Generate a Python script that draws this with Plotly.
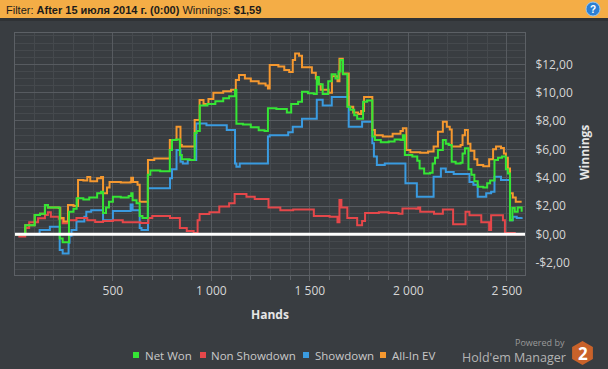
import plotly.graph_objects as go

# ---------------- data (hand, cumulative $) ----------------
net_won_hands = [0, 55, 103, 130, 155, 170, 230, 245, 277, 300, 316, 350, 380, 420, 440, 450, 465, 480, 500, 540,
                 580, 593, 600, 620, 636, 650, 677, 690, 740, 789, 800, 820, 840, 850, 890, 915, 925, 941, 980, 1020,
                 1060, 1090, 1120, 1127, 1160, 1200, 1240, 1270, 1287, 1330, 1383, 1405, 1440, 1460, 1490, 1520, 1535,
                 1545, 1565, 1593, 1610, 1630, 1645, 1655, 1668, 1690, 1705, 1725, 1740, 1770, 1790, 1817, 1830, 1860,
                 1900, 1930, 1960, 1972, 1982, 2020, 2045, 2057, 2080, 2110, 2123, 2135, 2150, 2175, 2190, 2205, 2220,
                 2240, 2265, 2275, 2287, 2305, 2320, 2335, 2352, 2380, 2400, 2415, 2437, 2455, 2475, 2495, 2505, 2516,
                 2528, 2540, 2555, 2575]
net_won_vals = [0.0, 0.65, 1.36, 1.45, 2.07, 1.9, -0.3, -0.55, 1.6, 1.8, 2.55, 2.45, 2.6, 2.9, 3.0, 1.5, 1.9, 2.3, 2.65, 2.6,
                2.7, 2.9, 2.4, 2.2, 1.3, 1.15, 4.2, 4.5, 4.45, 5.95, 6.65, 6.7, 5.6, 5.3, 5.25, 7.15, 7.3, 9.1, 9.2, 9.4,
                9.6, 9.75, 10.18, 7.8, 7.75, 7.55, 7.35, 7.3, 8.9, 8.85, 8.6, 9.2, 9.36, 10.07, 9.95, 9.9, 11.1,
                10.6, 9.9, 10.8, 11.3, 11.0, 11.5, 12.3, 11.3, 9.0, 8.8, 8.4, 8.15, 9.36, 9.45, 6.9, 6.65, 6.5,
                6.55, 6.7, 6.65, 7.0, 5.6, 5.5, 5.2, 4.65, 4.3, 4.35, 5.0, 5.4, 5.95, 6.65, 6.4, 6.3, 5.12,
                5.0, 5.05, 5.7, 6.07, 4.6, 4.2, 3.75, 3.35, 3.3, 3.6, 3.8, 5.24, 5.4, 5.5, 4.6, 4.3, 1.0,
                1.85, 1.6, 1.9, 1.59]

non_showdown_hands = [0, 25, 55, 75, 120, 155, 170, 185, 225, 245, 275, 315, 370, 410, 450, 500, 550, 640, 680, 700,
                      790, 840, 875, 910, 930, 940, 990, 1040, 1090, 1118, 1178, 1220, 1290, 1350, 1415, 1520, 1600,
                      1640, 1650, 1660, 1690, 1740, 1765, 1780, 1850, 1900, 1950, 1970, 2040, 2050, 2060, 2130, 2175,
                      2227, 2290, 2310, 2370, 2410, 2420, 2480, 2490, 2540, 2575]
non_showdown_vals = [0.0, -0.15, 0.45, 0.86, 1.13, 1.36, 1.56, 1.24, 1.1, 0.78, 1.0, 1.15, 1.0, 0.87, 0.95, 1.0, 0.85, 0.8, 1.15, 1.3,
                     1.15, 0.44, 0.23, 0.1, 1.0, 1.43, 1.55, 1.96, 2.19, 2.85, 2.65, 2.5, 1.9, 1.7, 1.75, 1.3, 1.25,
                     0.85, 2.42, 1.9, 1.15, 0.65, 0.95, 1.5, 1.55, 1.5, 1.45, 1.83, 1.8, 1.9, 1.6, 1.45, 1.75,
                     0.72, 1.6, 1.35, 0.85, 0.3, 1.35, 1.0, 0.1, 0.0, 0.0]

showdown_hands = [0, 128, 180, 230, 245, 275, 280, 290, 315, 355, 365, 390, 450, 500, 590, 600, 636, 645, 678, 790,
                  800, 823, 843, 855, 880, 923, 975, 1078, 1120, 1127, 1144, 1287, 1296, 1390, 1413, 1460, 1535, 1565,
                  1611, 1697, 1765, 1817, 1825, 1840, 1880, 1985, 2043, 2128, 2165, 2190, 2230, 2310, 2330, 2352, 2395,
                  2420, 2437, 2470, 2516, 2530, 2550, 2575]
showdown_vals = [0.0, 0.3, 0.54, -1.1, -1.35, -0.6, -0.1, 0.3, 0.9, 1.24, 1.6, 1.7, 1.0, 1.65, 2.1, 1.7, 0.44, 0.3, 3.25, 3.95,
                 4.6, 5.95, 5.12, 5.0, 5.24, 7.83, 7.7, 7.36, 5.0, 4.77, 5.0, 6.9, 7.0, 7.2, 7.6, 8.15, 9.5, 9.1,
                 9.7, 7.6, 7.95, 6.42, 5.5, 4.9, 5.0, 3.6, 2.65, 4.07, 4.65, 4.4, 4.25, 3.7, 3.5, 2.65, 2.9,
                 3.0, 4.07, 3.83, 1.0, 1.25, 1.15, 1.2]

allin_ev_hands = [0, 55, 103, 130, 155, 170, 225, 233, 250, 272, 300, 323, 350, 370, 385, 420, 440, 450, 470, 483,
                  540, 590, 593, 602, 625, 636, 678, 710, 789, 823, 843, 850, 915, 940, 960, 985, 1010, 1060, 1100,
                  1124, 1140, 1170, 1200, 1240, 1275, 1287, 1296, 1340, 1370, 1395, 1413, 1425, 1445, 1460, 1510,
                  1530, 1545, 1555, 1595, 1612, 1640, 1650, 1667, 1697, 1720, 1745, 1760, 1775, 1817, 1830, 1870,
                  1920, 1960, 1972, 1990, 2010, 2060, 2100, 2128, 2150, 2175, 2195, 2210, 2220, 2265, 2275, 2287,
                  2302, 2315, 2335, 2350, 2380, 2410, 2430, 2445, 2470, 2485, 2495, 2505, 2516, 2530, 2545, 2575]
allin_ev_vals = [0.0, 0.65, 1.36, 1.45, 2.07, 1.9, 1.85, 1.15, 0.9, 2.07, 2.0, 3.83, 3.8, 4.05, 3.75, 3.95, 4.05, 2.9, 3.3, 3.7,
                 3.65, 3.7, 4.0, 3.7, 3.5, 2.3, 5.24, 5.36, 6.65, 7.6, 6.3, 6.2, 8.07, 9.48, 9.2, 9.55, 10.0, 10.1, 10.2,
                 10.9, 11.25, 11.0, 10.8, 10.65, 10.5, 10.3, 11.95, 11.85, 11.6, 11.45, 12.3, 12.77, 12.6, 11.8, 11.4,
                 11.0, 10.6, 10.2, 10.0, 11.15, 10.8, 12.4, 11.35, 9.0, 8.6, 8.5, 8.7, 9.7, 7.36, 7.0, 6.9,
                 7.1, 7.3, 7.48, 5.95, 5.8, 5.75, 5.85, 6.2, 7.24, 7.95, 7.6, 7.4, 6.2, 6.3, 7.0, 7.36,
                 6.4, 5.9, 5.3, 4.9, 4.8, 5.3, 6.0, 6.2, 6.1, 5.7, 5.4, 4.65, 2.9, 2.6, 2.3, 2.3]

x_tick_vals = [500, 1000, 1500, 2000, 2500]
x_tick_text = ["500", "1 000", "1 500", "2 000", "2 500"]
y_tick_vals = [-2, 0, 2, 4, 6, 8, 10, 12]
y_tick_text = ["-$2,00", "$0,00", "$2,00", "$4,00", "$6,00", "$8,00", "$10,00", "$12,00"]

series_names = ["Net Won", "Non Showdown", "Showdown", "All-In EV"]
series_colors = ["#35e535", "#e5474a", "#3a9be0", "#f5982f"]

# ---------------- geometry (pixels) ----------------
W, H = 608, 369
PL, PR, PT, PB = 15, 525, 33, 275
BG = "#393d41"


def fx(px):
    return (px - PL) / (PR - PL)


def fy(py):
    return (PB - py) / (PB - PT)


fig = go.Figure()

draw_order = [
    (showdown_hands, showdown_vals, 2),
    (non_showdown_hands, non_showdown_vals, 1),
    (allin_ev_hands, allin_ev_vals, 3),
    (net_won_hands, net_won_vals, 0),
]
for hx, vy, idx in draw_order:
    fig.add_trace(go.Scatter(x=hx, y=vy, mode="lines", name=series_names[idx],
                             line=dict(color=series_colors[idx], width=2, shape="hv"),
                             showlegend=False, hoverinfo="skip"))

shapes = []
annotations = []

# zero line
shapes.append(dict(type="line", xref="paper", yref="y", x0=0, x1=1, y0=0, y1=0,
                   line=dict(color="#ffffff", width=3), layer="above"))

# header bar
shapes.append(dict(type="rect", xref="paper", yref="paper", x0=fx(0), x1=fx(W), y0=fy(18), y1=fy(0),
                   fillcolor="#f4ad46", line=dict(width=0), layer="above"))
shapes.append(dict(type="rect", xref="paper", yref="paper", x0=fx(0), x1=fx(W), y0=fy(21), y1=fy(18),
                   fillcolor="#2f3235", line=dict(width=0), layer="above"))
annotations.append(dict(xref="paper", yref="paper", x=fx(4), y=fy(9.5), xanchor="left", yanchor="middle",
                        showarrow=False,
                        text="Filter: <b>After 15 июля 2014 г. (0:00)</b> Winnings: <b>$1,59</b>",
                        font=dict(family="Liberation Sans, Arial, sans-serif", size=11, color="#1b1b1b")))
# help icon
shapes.append(dict(type="circle", xref="paper", yref="paper", x0=fx(586), x1=fx(600), y0=fy(16), y1=fy(2),
                   fillcolor="#2b7fd4", line=dict(color="#9cc8f0", width=1), layer="above"))
annotations.append(dict(xref="paper", yref="paper", x=fx(593), y=fy(9), xanchor="center", yanchor="middle",
                        showarrow=False, text="<b>?</b>",
                        font=dict(family="Liberation Sans, Arial", size=10, color="#ffffff")))

# axis titles
annotations.append(dict(xref="paper", yref="paper", x=fx(270), y=fy(314), xanchor="center", yanchor="middle",
                        showarrow=False, text="<b>Hands</b>",
                        font=dict(family="Open Sans, sans-serif", size=12, color="#e6e6e6")))
annotations.append(dict(xref="paper", yref="paper", x=fx(584), y=fy(153), xanchor="center", yanchor="middle",
                        showarrow=False, text="<b>Winnings</b>", textangle=-90,
                        font=dict(family="Open Sans, sans-serif", size=12, color="#e6e6e6")))

# legend (squares + labels)
legend_items = [(133, 144), (200, 210), (303, 314), (380, 391)]
for i, (sq_x, tx) in enumerate(legend_items):
    shapes.append(dict(type="rect", xref="paper", yref="paper", x0=fx(sq_x), x1=fx(sq_x + 6),
                       y0=fy(358), y1=fy(352), fillcolor=series_colors[i], line=dict(width=0)))
    annotations.append(dict(xref="paper", yref="paper", x=fx(tx - 1), y=fy(355.5), xanchor="left",
                            yanchor="middle", showarrow=False, text=series_names[i],
                            font=dict(family="Open Sans, sans-serif", size=11.5, color="#c9c9c9")))

# Powered by Hold'em Manager logo
annotations.append(dict(xref="paper", yref="paper", x=fx(567), y=fy(342), xanchor="right", yanchor="middle",
                        showarrow=False, text="Powered by",
                        font=dict(family="Open Sans, sans-serif", size=9, color="#9a9a9a")))
annotations.append(dict(xref="paper", yref="paper", x=fx(568), y=fy(357), xanchor="right", yanchor="middle",
                        showarrow=False, text="Hold'em Manager",
                        font=dict(family="Open Sans, sans-serif", size=12.5, color="#b4b4b4")))
cx, cy, r = 582.5, 353, 12
hexpts = [(cx, cy - r), (cx + 10.4, cy - 6), (cx + 10.4, cy + 6), (cx, cy + r), (cx - 10.4, cy + 6), (cx - 10.4, cy - 6)]
path = "M " + " L ".join(f"{fx(a):.5f},{fy(b):.5f}" for a, b in hexpts) + " Z"
shapes.append(dict(type="path", xref="paper", yref="paper", path=path, fillcolor="#c9622a",
                   line=dict(width=0)))
annotations.append(dict(xref="paper", yref="paper", x=fx(cx), y=fy(cy), xanchor="center", yanchor="middle",
                        showarrow=False, text="<b>2</b>",
                        font=dict(family="Open Sans, sans-serif", size=17, color="#ffffff")))

fig.update_layout(
    width=W, height=H,
    margin=dict(l=PL, r=W - PR, t=PT, b=H - PB, pad=0),
    paper_bgcolor=BG, plot_bgcolor=BG,
    showlegend=False,
    shapes=shapes, annotations=annotations,
    xaxis=dict(range=[3, 2592], tickmode="array", tickvals=x_tick_vals, ticktext=x_tick_text,
               showgrid=True, gridcolor="#575b60", gridwidth=1, zeroline=False,
               showline=True, linecolor="#5c6065", linewidth=1, mirror=True,
               ticks="outside", ticklen=5, tickcolor="#5c6065",
               tickfont=dict(family="Open Sans, sans-serif", size=12, color="#d6d6d6"),
               minor=dict(tick0=0, dtick=100, showgrid=True, gridcolor="#45494d", ticks="outside",
                          ticklen=4, tickcolor="#5c6065")),
    yaxis=dict(range=[-2.87, 14.21], side="right", tickmode="array", tickvals=y_tick_vals,
               ticktext=y_tick_text, showgrid=True, gridcolor="#575b60", gridwidth=1, zeroline=False,
               showline=True, linecolor="#5c6065", linewidth=1, mirror=True,
               ticks="outside", ticklen=7, tickcolor=BG,
               tickfont=dict(family="Open Sans, sans-serif", size=12, color="#d6d6d6"),
               minor=dict(tick0=0, dtick=0.5, showgrid=True, gridcolor="#45494d")),
)

fig.write_html("out.html", config={"displayModeBar": False},
               post_script="document.body.style.margin='0px';document.body.style.background='%s';" % BG)
